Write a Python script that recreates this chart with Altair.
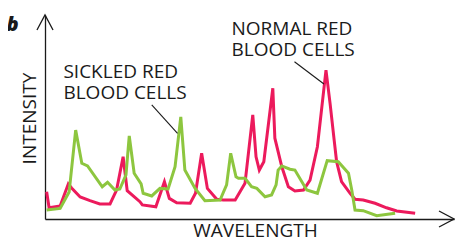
import altair as alt
import pandas as pd

# Normal red blood cells (pink trace): wavelength (arbitrary units), intensity (arbitrary units)
normal_x = [0.4, 1.0, 3.7, 5.7, 6.5, 8.6, 11.0, 13.4, 15.9, 17.5, 19.1, 20.1, 23.2, 23.8, 27.1,
            29.2, 30.4, 32.2, 35.5, 36.8, 38.3, 39.7, 42.0, 43.6, 46.5, 48.9, 50.8, 51.6, 52.4,
            53.5, 55.7, 56.2, 57.9, 59.5, 61.1, 63.2, 64.8, 66.6, 68.7, 69.7, 70.7, 71.3, 72.5,
            74.6, 75.8, 77.8, 80.7, 83.5, 86.0, 90.5]
normal_y = [13.4, 5.5, 6.4, 17.2, 15.2, 10.8, 9.0, 7.4, 7.4, 14.2, 30.5, 13.9, 8.5, 6.9, 6.0,
            18.3, 10.1, 8.0, 7.7, 12.6, 32.2, 15.0, 9.7, 9.3, 9.3, 17.5, 51.0, 30.5, 24.0,
            28.1, 64.1, 39.6, 25.6, 15.8, 13.7, 14.2, 19.1, 35.4, 73.0, 56.7, 38.7, 28.1, 18.3,
            12.6, 9.7, 9.3, 7.7, 5.5, 3.9, 2.8]

# Sickled red blood cells (green trace)
sickle_x = [0.4, 3.7, 5.9, 7.5, 9.0, 10.4, 14.0, 15.3, 17.1, 18.3, 19.8, 20.6, 21.8, 23.5, 24.0,
            26.1, 28.1, 30.1, 31.8, 33.2, 34.2, 36.7, 39.1, 42.8, 44.4, 45.4, 46.7, 47.3, 48.9,
            50.5, 51.8, 53.8, 55.4, 56.5, 57.0, 57.9, 59.9, 61.1, 64.0, 66.6, 69.0, 71.7, 74.2,
            75.0, 75.8, 77.8, 81.1, 85.6]
sickle_y = [4.4, 5.2, 13.2, 43.6, 27.3, 26.0, 15.8, 18.0, 14.2, 14.7, 21.6, 40.7, 22.4, 17.2, 12.6,
            11.3, 15.0, 14.7, 25.6, 50.1, 24.0, 15.0, 9.0, 9.3, 16.7, 32.2, 20.7, 20.0, 20.0,
            15.8, 15.0, 10.9, 11.8, 16.7, 24.0, 26.0, 24.4, 24.0, 14.2, 12.6, 28.6, 28.1, 22.4,
            14.2, 4.4, 4.1, 1.6, 2.8]

series_names = ["NORMAL RED BLOOD CELLS", "SICKLED RED BLOOD CELLS"]
series_colors = ["#EC1A5C", "#8DC63F"]

# Annotation label lines and their pointer lines
ann_text = ["SICKLED RED", "BLOOD CELLS", "NORMAL RED", "BLOOD CELLS"]
ann_x = [4.5, 4.5, 45.6, 45.6]
ann_y = [69.3, 58.8, 90.2, 79.7]
ptr_x = [26.1, 61.0]
ptr_y = [55.9, 77.1]
ptr_x2 = [32.4, 68.2]
ptr_y2 = [42.0, 66.2]

# Panel letter
panel_text = ["b"]
panel_x = [-9.4]
panel_y = [92.2]

FONT = "Open Sans"
INK = "#1a1a1a"

normal_df = pd.DataFrame({"wavelength": normal_x, "intensity": normal_y, "series": series_names[0]})
sickle_df = pd.DataFrame({"wavelength": sickle_x, "intensity": sickle_y, "series": series_names[1]})
ann_df = pd.DataFrame({"text": ann_text, "x": ann_x, "y": ann_y})
ptr_df = pd.DataFrame({"x": ptr_x, "y": ptr_y, "x2": ptr_x2, "y2": ptr_y2})
panel_df = pd.DataFrame({"text": panel_text, "x": panel_x, "y": panel_y})
arrow_df = pd.DataFrame({"x": [0, 100], "y": [100, 0], "angle": [0, 90]})

xs = alt.Scale(domain=[0, 100], nice=False, zero=False)
ys = alt.Scale(domain=[0, 100], nice=False, zero=False)
cs = alt.Scale(domain=series_names, range=series_colors)

x_axis = alt.Axis(title="WAVELENGTH", titleX=210, titleY=17.5, titleAlign="center",
                  titleBaseline="alphabetic", titleAngle=0)
y_axis = alt.Axis(title="INTENSITY", titleX=-9.3, titleY=103, titleAlign="center",
                  titleBaseline="alphabetic", titleAngle=-90)

normal = alt.Chart(normal_df).mark_line(strokeWidth=3, strokeJoin="miter").encode(
    x=alt.X("wavelength:Q", scale=xs, axis=x_axis),
    y=alt.Y("intensity:Q", scale=ys, axis=y_axis),
    color=alt.Color("series:N", scale=cs, legend=None),
)
sickle = alt.Chart(sickle_df).mark_line(strokeWidth=3, strokeJoin="miter").encode(
    x=alt.X("wavelength:Q", scale=xs),
    y=alt.Y("intensity:Q", scale=ys),
    color=alt.Color("series:N", scale=cs, legend=None),
)

labels = alt.Chart(ann_df).mark_text(
    font=FONT, fontSize=19, align="left", baseline="alphabetic", color=INK,
).encode(
    x=alt.X("x:Q", scale=xs),
    y=alt.Y("y:Q", scale=ys),
    text="text:N",
)

panel = alt.Chart(panel_df).mark_text(
    font=FONT, fontSize=20, fontStyle="italic", fontWeight=800,
    align="left", baseline="alphabetic", color=INK,
).encode(
    x=alt.X("x:Q", scale=xs),
    y=alt.Y("y:Q", scale=ys),
    text="text:N",
)

pointers = alt.Chart(ptr_df).mark_rule(strokeWidth=1.1, color=INK).encode(
    x=alt.X("x:Q", scale=xs),
    y=alt.Y("y:Q", scale=ys),
    x2="x2:Q",
    y2="y2:Q",
)

arrows = alt.Chart(arrow_df).mark_point(
    shape="M-1.07,2L0,0L1.07,2", size=225, filled=False, strokeWidth=1.3,
    color=INK, opacity=1,
).encode(
    x=alt.X("x:Q", scale=xs),
    y=alt.Y("y:Q", scale=ys),
    angle=alt.Angle("angle:Q", scale=None),
)

chart = alt.layer(normal, sickle, pointers, labels, panel, arrows).properties(
    width=409,
    height=204,
    autosize=alt.AutoSizeParams(type="none"),
    padding={"left": 37, "top": 7, "right": 1, "bottom": 20},
).configure_view(stroke=None).configure_axis(
    domain=True, domainColor=INK, domainWidth=1.3, ticks=False, labels=False, grid=False,
    titleFont=FONT, titleFontSize=19, titleFontWeight="normal", titleColor=INK,
)

chart.save("out.html", embed_options={"renderer": "svg", "actions": False})
